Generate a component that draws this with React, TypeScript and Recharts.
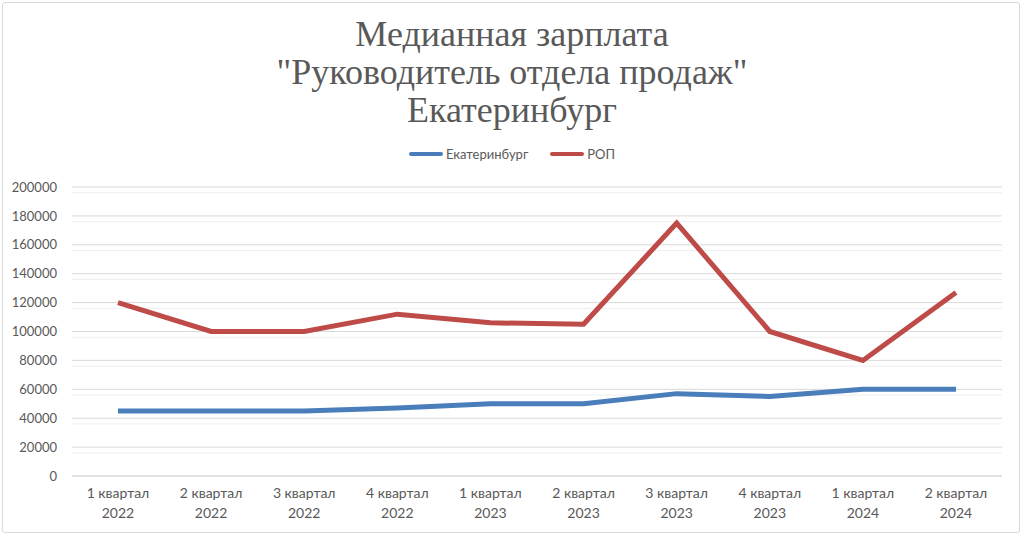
import React from 'react';
import { LineChart, Line, XAxis, YAxis, CartesianGrid } from 'recharts';

const quarters = ['1 квартал', '2 квартал', '3 квартал', '4 квартал', '1 квартал', '2 квартал', '3 квартал', '4 квартал', '1 квартал', '2 квартал'];
const years = ['2022', '2022', '2022', '2022', '2023', '2023', '2023', '2023', '2024', '2024'];
const ekb = [45000, 45000, 45000, 47000, 50000, 50000, 57000, 55000, 60000, 60000];
const rop = [120000, 100000, 100000, 112000, 106000, 105000, 175000, 100000, 80000, 127000];
const yTicks = [0, 20000, 40000, 60000, 80000, 100000, 120000, 140000, 160000, 180000, 200000];
const minorTicks = [4000, 8000, 12000, 16000, 24000, 28000, 32000, 36000, 44000, 48000, 52000, 56000, 64000, 68000, 72000, 76000, 84000, 88000, 92000, 96000, 104000, 108000, 112000, 116000, 124000, 128000, 132000, 136000, 144000, 148000, 152000, 156000, 164000, 168000, 172000, 176000, 184000, 188000, 192000, 196000];
const titleLines = ['Медианная зарплата', '"Руководитель отдела продаж"', 'Екатеринбург'];
const seriesNames = ['Екатеринбург', 'РОП'];
const colors = ['#4a7ebb', '#be4b48'];

const data = quarters.map((q, i) => ({ label: q, year: years[i], ekb: ekb[i], rop: rop[i] }));

const textColor = '#595959';
const font = 'Lato, "Noto Sans", sans-serif';

function QuarterTick(props: any) {
  const { x, y, payload, index } = props;
  return (
    <text x={x} y={y} textAnchor="middle" fill={textColor} fontSize={14} fontFamily={font}>
      <tspan x={x} dy={14}>{payload.value}</tspan>
      <tspan x={x} dy={20}>{years[index]}</tspan>
    </text>
  );
}

export default function App() {
  return (
    <div style={{ position: 'absolute', left: 0, top: 0, width: 1024, height: 535, background: '#fff', overflow: 'hidden' }}>
      <div style={{ position: 'absolute', left: 2, top: 2, width: 1016, height: 529, border: '1px solid #d9d9d9', borderRadius: 3 }} />
      <div style={{ position: 'absolute', left: 0, top: 15, width: 1024, textAlign: 'center', color: textColor, fontFamily: '"Liberation Serif", serif', fontSize: 36, lineHeight: '38px' }}>
        {titleLines.map((t, i) => <div key={i}>{t}</div>)}
      </div>
      <div style={{ position: 'absolute', left: 0, top: 146, width: 1024, display: 'flex', justifyContent: 'center', gap: 22, fontFamily: font, fontSize: 13, color: textColor }}>
        {seriesNames.map((n, i) => (
          <div key={n} style={{ display: 'flex', alignItems: 'center' }}>
            <div style={{ width: 34, height: 4, borderRadius: 2, background: colors[i], marginRight: 3 }} />
            <span>{n}</span>
          </div>
        ))}
      </div>
      <div style={{ position: 'absolute', left: 0, top: 0 }}>
        <LineChart width={1024} height={535} data={data} margin={{ top: 187, right: 22, bottom: 0, left: 8 }}>
          <CartesianGrid vertical={false} horizontalValues={minorTicks} stroke="#eeeeee" strokeWidth={1} />
          <CartesianGrid vertical={false} stroke="#d9d9d9" strokeWidth={1} />
          <XAxis dataKey="label" height={59} interval={0} padding={{ left: 46, right: 46 }} tick={<QuarterTick />} tickLine={false} axisLine={{ stroke: '#d9d9d9' }} />
          <YAxis domain={[0, 200000]} ticks={yTicks} width={64} tickLine={false} axisLine={false} tickSize={0} tickMargin={15} tick={{ fill: textColor, fontSize: 13, fontFamily: font }} />
          <Line dataKey="ekb" name={seriesNames[0]} stroke={colors[0]} strokeWidth={5} dot={false} isAnimationActive={false} />
          <Line dataKey="rop" name={seriesNames[1]} stroke={colors[1]} strokeWidth={5} dot={false} isAnimationActive={false} />
        </LineChart>
      </div>
    </div>
  );
}
